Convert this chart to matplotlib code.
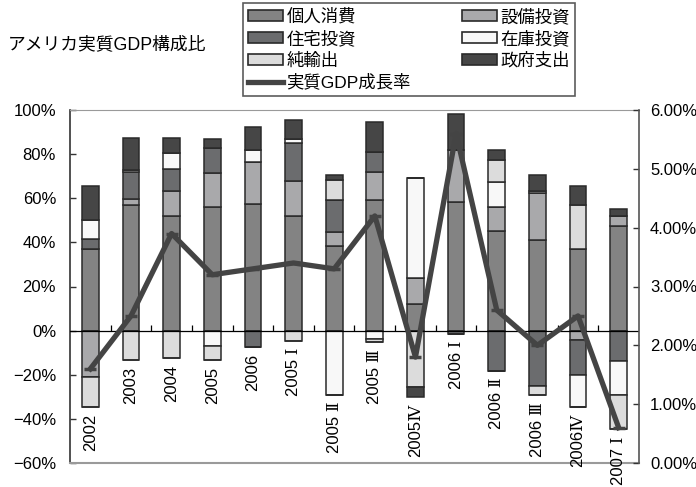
import numpy as np
import matplotlib
matplotlib.use("Agg")
import matplotlib.pyplot as plt
from matplotlib.patches import Patch
from matplotlib.lines import Line2D
from matplotlib.ticker import FuncFormatter, MultipleLocator

plt.rcParams['font.family'] = ['Liberation Sans', 'Noto Sans CJK JP']
plt.rcParams['axes.unicode_minus'] = True

# 期間ラベル(年次 + 四半期)
periods = ["2002", "2003", "2004", "2005", "2006",
           "2005 Ⅰ", "2005 Ⅱ", "2005 Ⅲ", "2005Ⅳ",
           "2006 Ⅰ", "2006 Ⅱ", "2006 Ⅲ", "2006Ⅳ", "2007 Ⅰ"]

# 寄与度の構成比 (%)
consumption = [37.1, 57.1, 51.8, 56.0, 57.4, 51.8, 38.2, 59.0, 12.0, 58.3, 45.0, 41.2, 37.1, 47.3]
equipment = [-21.0, 2.6, 11.3, 15.4, 19.0, 16.1, 6.3, 12.7, 11.8, 23.4, 11.0, 21.4, -4.4, 4.8]
housing = [4.4, 12.0, 10.3, 11.6, -7.5, 17.1, 14.5, 9.2, 0.0, -1.6, -18.1, -25.2, -15.5, -13.9]
inventory = [8.5, 1.2, 7.1, -7.1, 5.6, 2.0, -29.0, -3.8, 45.6, 0.0, 11.4, 0.9, -14.7, -15.5]
net_exports = [-13.6, -13.3, -12.5, -6.0, 0.0, -4.5, 9.1, -1.5, -25.5, 0.0, 10.1, -4.2, 20.0, -15.4]
government = [15.7, 14.3, 6.8, 4.0, 10.3, 8.3, 2.6, 13.6, -4.6, 16.6, 4.2, 7.1, 8.3, 3.2]

# 実質GDP成長率 (%)
gdp_growth = [1.6, 2.5, 3.9, 3.2, 3.3, 3.4, 3.3, 4.2, 1.8, 5.6, 2.6, 2.0, 2.5, 0.6]

series = [
    ("個人消費", consumption, "#838383"),
    ("設備投資", equipment, "#a9a9ab"),
    ("住宅投資", housing, "#6b6c6e"),
    ("在庫投資", inventory, "#f8f8f8"),
    ("純輸出", net_exports, "#dcdcdc"),
    ("政府支出", government, "#464646"),
]

EDGE = "#2a2a2a"
LINE = "#444444"

fig = plt.figure(figsize=(6.96, 4.87), dpi=100)
ax = fig.add_axes([70 / 696, 24 / 487, 569 / 696, 353 / 487])

x = np.arange(len(periods))
pos_base = np.zeros(len(periods))
neg_base = np.zeros(len(periods))
for name, vals, color in series:
    v = np.array(vals)
    pos = np.where(v > 0, v, 0)
    neg = np.where(v < 0, v, 0)
    ax.bar(x, pos, 0.41, bottom=pos_base, color=color, edgecolor=EDGE, linewidth=1.1, zorder=2)
    ax.bar(x, neg, 0.41, bottom=neg_base, color=color, edgecolor=EDGE, linewidth=1.1, zorder=2)
    pos_base += pos
    neg_base += neg

ax.axhline(0, color="black", lw=0.9, zorder=3)
# 区切りの目盛り
ax.vlines(x[:-1] + 0.5, 0, 2.4, color="black", lw=0.9, zorder=3)

# 期間ラベルは各棒の下端の下へ
for xi, lab, nb in zip(x, periods, neg_base):
    ax.annotate(lab, (xi, nb), xytext=(0, -5), textcoords="offset points",
                rotation=90, ha="center", va="top", fontsize=12,
                family=["Liberation Sans", "DejaVu Serif", "Noto Sans CJK JP"])

ax.set_xlim(-0.5, len(periods) - 0.5)
ax.set_ylim(-60, 100)
ax.yaxis.set_major_locator(MultipleLocator(20))
ax.yaxis.set_major_formatter(FuncFormatter(lambda v, p: f"{v:.0f}%".replace("-", "\u2212")))
ax.set_xticks([])
ax.tick_params(axis="y", direction="in", length=4, width=1, labelsize=12, pad=10, color="#333333")

ax.spines["top"].set_color("#9a9a9a")
ax.spines["bottom"].set_color("#9a9a9a")
ax.spines["bottom"].set_linewidth(1.5)
ax.spines["left"].set_color("#333333")
ax.spines["left"].set_linewidth(1.2)
ax.spines["right"].set_visible(False)

ax2 = ax.twinx()
ax2.plot(x, gdp_growth, color=LINE, lw=3.8, marker="_", ms=9, mew=2.5, zorder=4)
ax2.set_ylim(0, 6)
ax2.yaxis.set_major_locator(MultipleLocator(1))
ax2.yaxis.set_major_formatter(FuncFormatter(lambda v, p: f"{v:.2f}%"))
ax2.tick_params(axis="y", direction="in", length=4, width=1, labelsize=12, pad=8, color="#333333")
for s in ["top", "bottom", "left"]:
    ax2.spines[s].set_visible(False)
ax2.spines["right"].set_color("#555555")
ax2.spines["right"].set_linewidth(1.2)

fig.text(8 / 696, 1 - 45 / 487, "アメリカ実質GDP構成比", va="center", ha="left", fontsize=12.8)

handles = {name: Patch(facecolor=color, edgecolor=EDGE, linewidth=1.2) for name, _, color in series}
line_handle = Line2D([], [], color=LINE, lw=3.8)
leg_handles = [handles["個人消費"], handles["住宅投資"], handles["純輸出"], line_handle,
               handles["設備投資"], handles["在庫投資"], handles["政府支出"]]
leg_labels = ["個人消費", "住宅投資", "純輸出", "実質GDP成長率", "設備投資", "在庫投資", "政府支出"]
leg = fig.legend(leg_handles, leg_labels, ncol=2, loc="upper left",
                 bbox_to_anchor=(243 / 696, 1 - 3 / 487), frameon=True, fancybox=False,
                 edgecolor="#333333", fontsize=12.5, borderaxespad=0, borderpad=0.3,
                 labelspacing=0.3, handlelength=2.0, handleheight=0.6, handletextpad=0.2,
                 columnspacing=2.95)
leg.get_frame().set_linewidth(1.2)

fig.savefig("out.png", dpi=100)
